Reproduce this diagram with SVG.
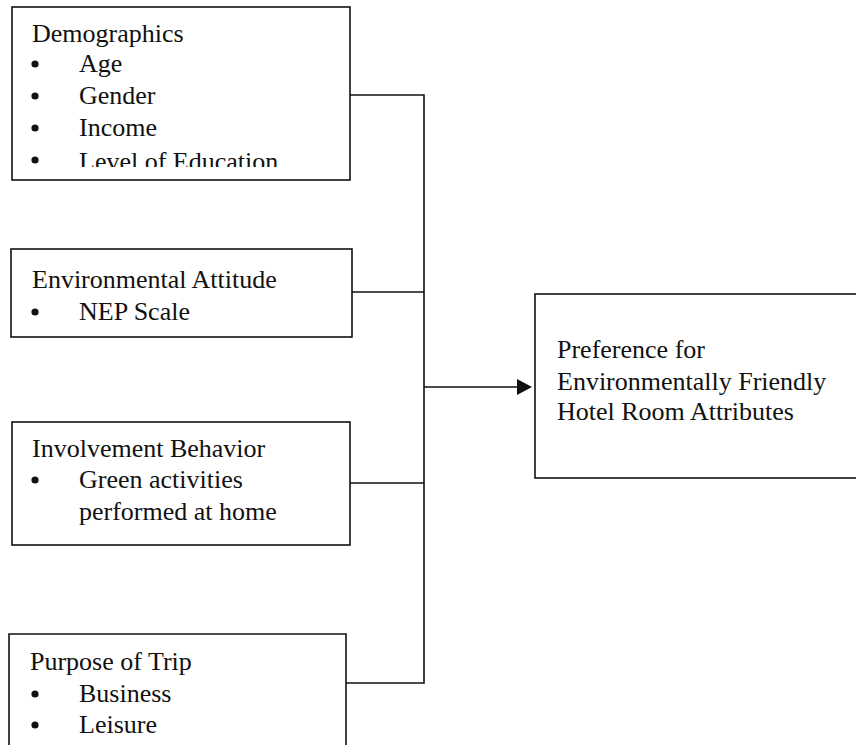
<svg xmlns="http://www.w3.org/2000/svg" width="856" height="745" viewBox="0 0 856 745">
<style>
.box{fill:none;stroke:#111;stroke-width:1.6}
.ln{fill:none;stroke:#111;stroke-width:1.6}
text{font-family:"Liberation Serif","Times New Roman",serif;font-size:26px;fill:#111}
.b{fill:#111}
</style>
<defs>
<clipPath id="c1"><rect x="0" y="0" width="360" height="167"/></clipPath>
</defs>
<rect width="856" height="745" fill="#fff"/>
<g id="demographics">
<rect class="box" x="12" y="7" width="338" height="173"/>
<g clip-path="url(#c1)">
<text x="32" y="42">Demographics</text>
<circle class="b" cx="35" cy="64" r="3.6"/><text x="79" y="72">Age</text>
<circle class="b" cx="35" cy="96" r="3.6"/><text x="79" y="104">Gender</text>
<circle class="b" cx="35" cy="128" r="3.6"/><text x="79" y="136">Income</text>
<circle class="b" cx="35" cy="160" r="3.6"/><text x="79" y="170">Level of Education</text>
</g>
</g>
<g id="environmental-attitude">
<rect class="box" x="11" y="249" width="341" height="88"/>
<text x="32" y="288">Environmental Attitude</text>
<circle class="b" cx="35" cy="312" r="3.6"/><text x="79" y="320">NEP Scale</text>
</g>
<g id="involvement-behavior">
<rect class="box" x="12" y="422" width="338" height="123"/>
<text x="32" y="457">Involvement Behavior</text>
<circle class="b" cx="35" cy="480" r="3.6"/><text x="79" y="488">Green activities</text>
<text x="79" y="520">performed at home</text>
</g>
<g id="purpose-of-trip">
<path class="box" d="M9,760 V634 H346 V760"/>
<text x="30" y="670">Purpose of Trip</text>
<circle class="b" cx="35" cy="694" r="3.6"/><text x="79" y="702">Business</text>
<circle class="b" cx="35" cy="725" r="3.6"/><text x="79" y="733">Leisure</text>
</g>
<g id="preference">
<rect class="box" x="535" y="294" width="330" height="184"/>
<text x="557" y="358">Preference for</text>
<text x="557" y="390">Environmentally Friendly</text>
<text x="557" y="420">Hotel Room Attributes</text>
</g>
<g id="connectors">
<path class="ln" d="M350,95 H424 V683 H346"/>
<path class="ln" d="M352,292 H424"/>
<path class="ln" d="M350,483 H424"/>
<path class="ln" d="M424,387 H518"/>
<polygon class="b" points="517,379 532,387 517,395"/>
</g>
</svg>
